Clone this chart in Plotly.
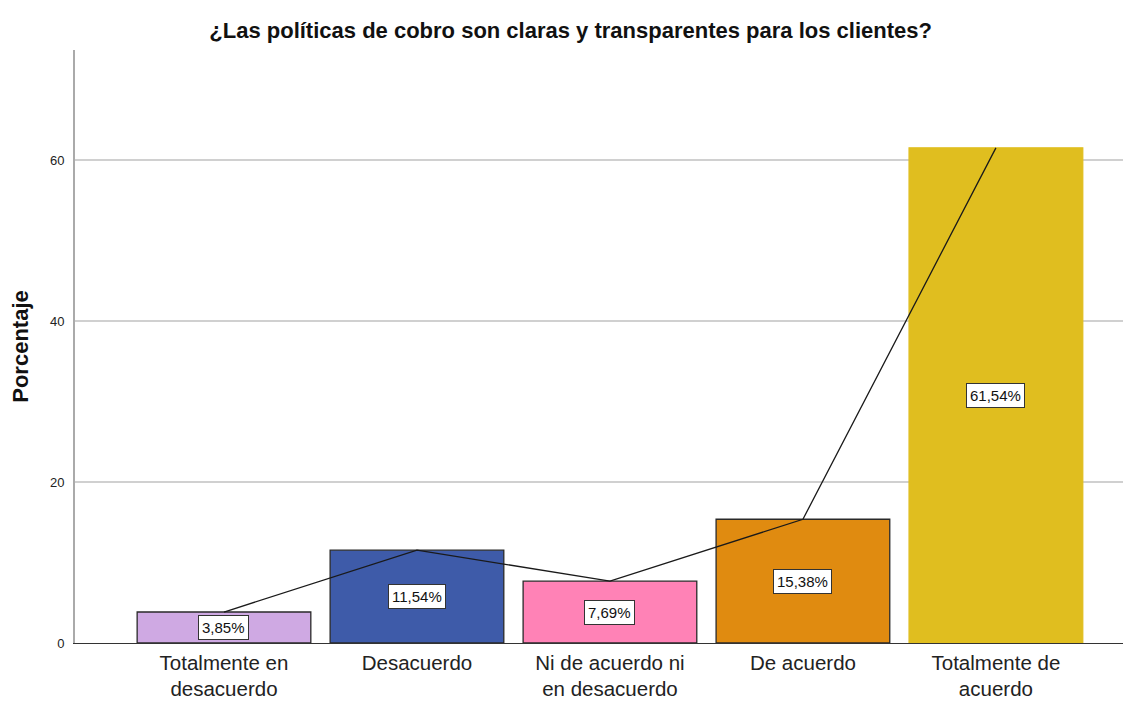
import plotly.graph_objects as go

categories = ["Totalmente en<br>desacuerdo", "Desacuerdo", "Ni de acuerdo ni<br>en desacuerdo", "De acuerdo", "Totalmente de<br>acuerdo"]
values = [3.85, 11.54, 7.69, 15.38, 61.54]
labels = ["3,85%", "11,54%", "7,69%", "15,38%", "61,54%"]
colors = ["#CFA9E3", "#3E5BA9", "#FF82B6", "#E08B10", "#E0BE1F"]
edge_colors = ["#2a2a2a", "#2a2a2a", "#2a2a2a", "#2a2a2a", "#E0BE1F"]
y_ticks = [0, 20, 40, 60]

fig = go.Figure()
fig.add_trace(go.Bar(
    x=categories, y=values, width=0.9,
    marker=dict(color=colors, line=dict(color=edge_colors, width=1.3)),
    hoverinfo="skip", showlegend=False,
))
fig.add_trace(go.Scatter(
    x=categories, y=values, mode="lines",
    line=dict(color="#1a1a1a", width=1.3),
    hoverinfo="skip", showlegend=False,
))
for c, v, t in zip(categories, values, labels):
    fig.add_annotation(
        x=c, y=v / 2, text=t, showarrow=False,
        font=dict(family="Liberation Sans, Arial", size=15, color="#111"),
        bgcolor="white", bordercolor="#333", borderwidth=1, borderpad=3,
    )

fig.update_layout(
    width=1123, height=694,
    margin=dict(l=67, r=0, t=42, b=59),
    paper_bgcolor="white", plot_bgcolor="white",
    font=dict(family="Liberation Sans, Arial", color="#111"),
    title=dict(
        text="<b>¿Las políticas de cobro son claras y transparentes para los clientes?</b>",
        x=0.501, xanchor="center", y=1 - 22 / 694, yanchor="middle",
        font=dict(size=22, family="Liberation Sans, Arial", color="#111"),
    ),
    bargap=0.1,
)
fig.update_xaxes(
    range=[-0.772, 4.70], showgrid=False, ticks="", automargin=False,
    tickfont=dict(size=20.5, color="#222"), ticklabelstandoff=1,
    showline=True, linecolor="#333", linewidth=1.3,
)
fig.update_yaxes(
    range=[0, 73.7], tickvals=y_ticks, ticks="", automargin=False,
    tickfont=dict(size=13, color="#222"), ticklabelstandoff=6,
    showgrid=True, gridcolor="#D0D0D0", gridwidth=2,
    zeroline=False,
    showline=True, linecolor="#AAAAAA", linewidth=2,
    title=dict(text="<b>Porcentaje</b>", font=dict(size=22, color="#111"), standoff=22),
)

fig.write_html("out.html")
